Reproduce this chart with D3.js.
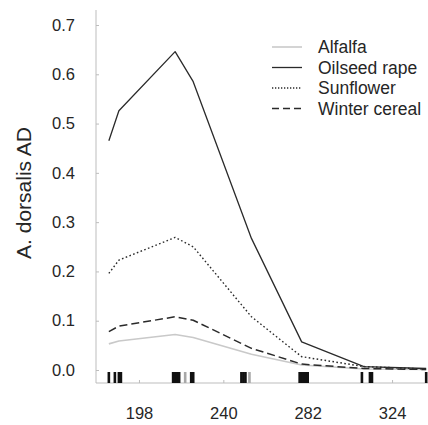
<!DOCTYPE html>
<html>
<head>
<meta charset="utf-8">
<script src="https://cdn.jsdelivr.net/npm/d3@7"></script>
<style>
  html, body { margin: 0; padding: 0; background: #fff; }
  svg { display: block; font-family: "Liberation Sans", Arial, sans-serif; }
</style>
</head>
<body>
<svg id="chart" width="428" height="425"></svg>
<script>
// ---- data ----
const days = [183, 188, 216, 225, 254, 279, 310, 341];
const alfalfa      = [0.053, 0.059, 0.072, 0.066, 0.032, 0.010, 0.002, 0.001];
const oilseedRape  = [0.465, 0.526, 0.646, 0.585, 0.267, 0.057, 0.007, 0.003];
const sunflower    = [0.196, 0.223, 0.269, 0.250, 0.108, 0.027, 0.007, 0.002];
const winterCereal = [0.078, 0.089, 0.108, 0.101, 0.044, 0.012, 0.003, 0.001];
const seriesNames = ["Alfalfa", "Oilseed rape", "Sunflower", "Winter cereal"];
const rugBlack = [183, 186, 188, 189, 215, 216, 217, 218, 224, 225, 249, 250, 251,
                  278, 279, 280, 281, 282, 309, 313, 314, 341];
const rugGray = [221, 253];
const xTicks = [198, 240, 282, 324];
const yTicks = [0, 0.1, 0.2, 0.3, 0.4, 0.5, 0.6, 0.7];
const yTitle = "A. dorsalis AD";

const series = [
  {name: seriesNames[0], values: alfalfa,      stroke: "#c9c9c9", width: 1.6, dash: null},
  {name: seriesNames[1], values: oilseedRape,  stroke: "#2a2a2a", width: 1.3, dash: null},
  {name: seriesNames[2], values: sunflower,    stroke: "#2a2a2a", width: 1.4, dash: "1.6,2.4"},
  {name: seriesNames[3], values: winterCereal, stroke: "#2a2a2a", width: 1.5, dash: "8,4"}
];

const svg = d3.select("#chart");
const x = d3.scaleLinear().domain([176.6, 341.9]).range([96, 428]);
const y = d3.scaleLinear().domain([0, 0.7]).range([370, 25]);
const axisBottomY = 383;
const axisColor = "#bdbdbd";
const textColor = "#262626";

// axes lines
svg.append("line").attr("x1", 96).attr("x2", 96).attr("y1", 10).attr("y2", axisBottomY)
  .attr("stroke", axisColor).attr("stroke-width", 1);
svg.append("line").attr("x1", 96).attr("x2", 428).attr("y1", axisBottomY).attr("y2", axisBottomY)
  .attr("stroke", axisColor).attr("stroke-width", 1);

// y ticks
const yAxis = d3.axisLeft(y).tickValues(yTicks).tickFormat(d3.format(".1f")).tickSize(-3).tickPadding(21);
const gy = svg.append("g").attr("transform", "translate(96,0)").call(yAxis);
gy.select(".domain").remove();
gy.selectAll(".tick line").attr("stroke", axisColor);
gy.selectAll(".tick text").attr("fill", textColor).attr("font-size", 16.5)
  .attr("font-family", "Liberation Sans, Arial, sans-serif");

// x ticks
const xAxis = d3.axisBottom(x).tickValues(xTicks).tickFormat(d3.format("d")).tickSize(-3).tickPadding(24);
const gx = svg.append("g").attr("transform", `translate(0,${axisBottomY})`).call(xAxis);
gx.select(".domain").remove();
gx.selectAll(".tick line").attr("stroke", axisColor);
gx.selectAll(".tick text").attr("fill", textColor).attr("font-size", 16.5)
  .attr("font-family", "Liberation Sans, Arial, sans-serif");

// rug
const rugW = d => x(d + 0.5) - x(d - 0.5) + 0.6;
svg.append("g").selectAll("rect.g").data(rugGray).join("rect")
  .attr("x", d => x(d - 0.5) - 0.3).attr("width", d => rugW(d))
  .attr("y", 372).attr("height", axisBottomY - 372).attr("fill", "#a8a8a8");
svg.append("g").selectAll("rect.b").data(rugBlack).join("rect")
  .attr("x", d => x(d - 0.5) - 0.3).attr("width", d => rugW(d))
  .attr("y", 372).attr("height", axisBottomY - 372).attr("fill", "#111");

// lines
const line = d3.line().x((d, i) => x(days[i])).y(d => y(d));
series.forEach(s => {
  svg.append("path").datum(s.values)
    .attr("d", line)
    .attr("fill", "none")
    .attr("stroke", s.stroke)
    .attr("stroke-width", s.width)
    .attr("stroke-dasharray", s.dash)
    .attr("stroke-linejoin", "round");
});

// y title
svg.append("text")
  .attr("transform", "translate(31,193) rotate(-90)")
  .attr("text-anchor", "middle")
  .attr("fill", textColor)
  .attr("font-size", 21)
  .text(yTitle);

// legend
const lg = svg.append("g");
series.forEach((s, i) => {
  const yy = 47 + i * 20.5;
  lg.append("line").attr("x1", 272).attr("x2", 302).attr("y1", yy).attr("y2", yy)
    .attr("stroke", s.stroke).attr("stroke-width", s.width)
    .attr("stroke-dasharray", s.dash ? (i === 2 ? "1.3,1.7" : "7,4") : null);
  lg.append("text").attr("x", 318).attr("y", yy).attr("dy", "0.35em")
    .attr("fill", textColor).attr("font-size", 17.5).text(s.name);
});
</script>
</body>
</html>
